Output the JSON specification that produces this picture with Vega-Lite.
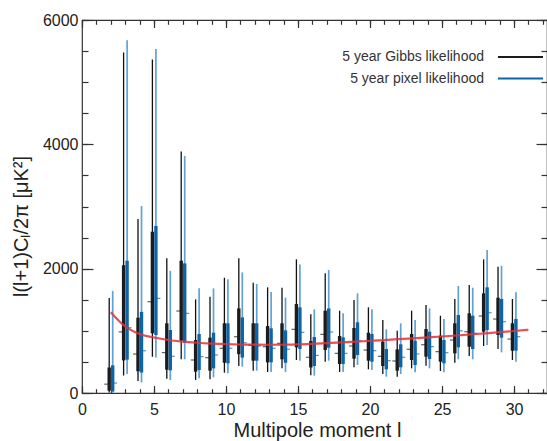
{
  "$schema": "https://vega.github.io/schema/vega-lite/v6.json",
  "width": 465,
  "height": 373,
  "autosize": {"type": "none"},
  "padding": {"left": 82, "top": 20, "right": 0, "bottom": 48},
  "config": {
    "font": "Liberation Sans",
    "view": {"stroke": "#333333", "strokeWidth": 1.2},
    "axis": {"grid": false, "domain": false, "tickColor": "#333333", "tickWidth": 1.2, "labelColor": "#222222", "titleColor": "#222222", "labelFontSize": 16, "titleFontSize": 20, "titleFontWeight": "normal", "labelFlush": false, "format": "d"}
  },
  "datasets": {
    "bars": [
      {"l":2,"s":"G","lo95":10,"lo68":37,"pk":142,"hi68":410,"hi95":1528},
      {"l":3,"s":"G","lo95":280,"lo68":525,"pk":983,"hi68":2055,"hi95":5478},
      {"l":4,"s":"G","lo95":193,"lo68":350,"pk":627,"hi68":1211,"hi95":2798},
      {"l":5,"s":"G","lo95":585,"lo68":960,"pk":1468,"hi68":2594,"hi95":5366},
      {"l":6,"s":"G","lo95":228,"lo68":375,"pk":650,"hi68":1121,"hi95":2166},
      {"l":7,"s":"G","lo95":542,"lo68":841,"pk":1319,"hi68":2128,"hi95":3885},
      {"l":8,"s":"G","lo95":209,"lo68":343,"pk":531,"hi68":852,"hi95":1506},
      {"l":9,"s":"G","lo95":220,"lo68":359,"pk":568,"hi68":890,"hi95":1549},
      {"l":10,"s":"G","lo95":327,"lo68":487,"pk":719,"hi68":1121,"hi95":1854},
      {"l":11,"s":"G","lo95":434,"lo68":625,"pk":905,"hi68":1361,"hi95":2166},
      {"l":12,"s":"G","lo95":359,"lo68":520,"pk":767,"hi68":1121,"hi95":1774},
      {"l":13,"s":"G","lo95":338,"lo68":493,"pk":745,"hi68":1077,"hi95":1700},
      {"l":14,"s":"G","lo95":397,"lo68":542,"pk":799,"hi68":1121,"hi95":1694},
      {"l":15,"s":"G","lo95":531,"lo68":735,"pk":1024,"hi68":1431,"hi95":2150},
      {"l":16,"s":"G","lo95":284,"lo68":410,"pk":574,"hi68":836,"hi95":1268},
      {"l":17,"s":"G","lo95":504,"lo68":691,"pk":943,"hi68":1324,"hi95":1925},
      {"l":18,"s":"G","lo95":338,"lo68":466,"pk":638,"hi68":917,"hi95":1324},
      {"l":19,"s":"G","lo95":413,"lo68":552,"pk":756,"hi68":1045,"hi95":1495},
      {"l":20,"s":"G","lo95":381,"lo68":520,"pk":691,"hi68":970,"hi95":1378},
      {"l":21,"s":"G","lo95":305,"lo68":434,"pk":590,"hi68":825,"hi95":1174},
      {"l":22,"s":"G","lo95":263,"lo68":359,"pk":515,"hi68":702,"hi95":1002},
      {"l":23,"s":"G","lo95":397,"lo68":531,"pk":703,"hi68":949,"hi95":1324},
      {"l":24,"s":"G","lo95":439,"lo68":584,"pk":777,"hi68":1029,"hi95":1415},
      {"l":25,"s":"G","lo95":354,"lo68":504,"pk":665,"hi68":922,"hi95":1243},
      {"l":26,"s":"G","lo95":487,"lo68":638,"pk":852,"hi68":1121,"hi95":1512},
      {"l":27,"s":"G","lo95":595,"lo68":745,"pk":986,"hi68":1281,"hi95":1737},
      {"l":28,"s":"G","lo95":756,"lo68":986,"pk":1238,"hi68":1603,"hi95":2150},
      {"l":29,"s":"G","lo95":708,"lo68":933,"pk":1190,"hi68":1533,"hi95":2031},
      {"l":30,"s":"G","lo95":531,"lo68":681,"pk":868,"hi68":1121,"hi95":1512},
      {"l":2,"s":"P","lo95":5,"lo68":25,"pk":160,"hi68":445,"hi95":1642},
      {"l":3,"s":"P","lo95":305,"lo68":537,"pk":1050,"hi68":2128,"hi95":5676},
      {"l":4,"s":"P","lo95":170,"lo68":330,"pk":680,"hi68":1305,"hi95":3007},
      {"l":5,"s":"P","lo95":573,"lo68":933,"pk":1522,"hi68":2688,"hi95":5532},
      {"l":6,"s":"P","lo95":209,"lo68":365,"pk":590,"hi68":1013,"hi95":1965},
      {"l":7,"s":"P","lo95":542,"lo68":809,"pk":1281,"hi68":2085,"hi95":3813},
      {"l":8,"s":"P","lo95":236,"lo68":370,"pk":584,"hi68":949,"hi95":1683},
      {"l":9,"s":"P","lo95":252,"lo68":397,"pk":611,"hi68":970,"hi95":1683},
      {"l":10,"s":"P","lo95":316,"lo68":477,"pk":719,"hi68":1121,"hi95":1828},
      {"l":11,"s":"P","lo95":423,"lo68":570,"pk":809,"hi68":1216,"hi95":1940},
      {"l":12,"s":"P","lo95":359,"lo68":520,"pk":756,"hi68":1121,"hi95":1753},
      {"l":13,"s":"P","lo95":338,"lo68":493,"pk":719,"hi68":1040,"hi95":1624},
      {"l":14,"s":"P","lo95":338,"lo68":487,"pk":703,"hi68":1008,"hi95":1533},
      {"l":15,"s":"P","lo95":520,"lo68":708,"pk":976,"hi68":1378,"hi95":2069},
      {"l":16,"s":"P","lo95":279,"lo68":434,"pk":605,"hi68":900,"hi95":1346},
      {"l":17,"s":"P","lo95":520,"lo68":729,"pk":981,"hi68":1361,"hi95":1978},
      {"l":18,"s":"P","lo95":338,"lo68":466,"pk":638,"hi68":895,"hi95":1281},
      {"l":19,"s":"P","lo95":450,"lo68":611,"pk":841,"hi68":1137,"hi95":1603},
      {"l":20,"s":"P","lo95":370,"lo68":504,"pk":681,"hi68":949,"hi95":1346},
      {"l":21,"s":"P","lo95":263,"lo68":381,"pk":520,"hi68":708,"hi95":1024},
      {"l":22,"s":"P","lo95":305,"lo68":413,"pk":574,"hi68":783,"hi95":1121},
      {"l":23,"s":"P","lo95":333,"lo68":450,"pk":627,"hi68":841,"hi95":1174},
      {"l":24,"s":"P","lo95":397,"lo68":547,"pk":745,"hi68":986,"hi95":1361},
      {"l":25,"s":"P","lo95":333,"lo68":477,"pk":648,"hi68":852,"hi95":1190},
      {"l":26,"s":"P","lo95":542,"lo68":735,"pk":1000,"hi68":1254,"hi95":1721},
      {"l":27,"s":"P","lo95":542,"lo68":708,"pk":960,"hi68":1243,"hi95":1694},
      {"l":28,"s":"P","lo95":772,"lo68":1013,"pk":1291,"hi68":1700,"hi95":2300},
      {"l":29,"s":"P","lo95":654,"lo68":890,"pk":1147,"hi68":1512,"hi95":2048},
      {"l":30,"s":"P","lo95":504,"lo68":681,"pk":906,"hi68":1190,"hi95":1619}
    ],
    "theory": [
      {"l":2,"v":1300},{"l":3,"v":1070},{"l":4,"v":948},{"l":5,"v":892},{"l":6,"v":852},
      {"l":7,"v":826},{"l":8,"v":808},{"l":9,"v":795},{"l":10,"v":786},{"l":11,"v":780},
      {"l":12,"v":777},{"l":13,"v":776},{"l":14,"v":777},{"l":15,"v":781},{"l":16,"v":790},
      {"l":17,"v":801},{"l":18,"v":813},{"l":19,"v":826},{"l":20,"v":839},{"l":21,"v":852},
      {"l":22,"v":866},{"l":23,"v":880},{"l":24,"v":894},{"l":25,"v":909},{"l":26,"v":925},
      {"l":27,"v":942},{"l":28,"v":960},{"l":29,"v":978},{"l":30,"v":997},{"l":31,"v":1017}
    ]
  },
  "data": {"name": "bars"},
  "resolve": {"axis": {"x": "independent", "y": "independent"}},
  "layer": [
    {
      "transform": [{"filter": "datum.s === 'G'"}],
      "mark": {"type": "rule", "color": "#111111", "strokeWidth": 1.3, "xOffset": -1.6},
      "encoding": {
        "x": {"field": "l", "type": "quantitative", "scale": {"domain": [0, 32.29], "nice": false, "zero": false},
          "axis": {"orient": "bottom", "values": [0,5,10,15,20,25,30], "offset": -7.5, "tickSize": 7.5, "labelPadding": 8, "title": "Multipole moment  l", "titleX": 235, "titleY": 45, "titleBaseline": "middle", "titleAnchor": "middle", "titleAlign": "center"}},
        "y": {"field": "lo95", "type": "quantitative", "scale": {"domain": [0, 6000], "nice": false},
          "axis": {"orient": "left", "values": [0,2000,4000,6000], "offset": -11, "tickSize": 11, "labelPadding": 4, "title": "l(l+1)Cₗ/2π [μK²]", "titleX": -72, "titleY": 206, "titleAngle": -90, "titleBaseline": "middle", "titleAlign": "center"}},
        "y2": {"field": "hi95"}
      }
    },
    {
      "transform": [{"filter": "datum.s === 'G'"}],
      "mark": {"type": "rule", "strokeWidth": 3.4, "xOffset": -1.6},
      "encoding": {
        "x": {"field": "l", "type": "quantitative", "scale": {"domain": [0, 32.29], "nice": false, "zero": false},
          "axis": {"orient": "top", "values": [0,5,10,15,20,25,30], "offset": -7.5, "tickSize": 7.5, "labels": false, "title": null}},
        "y": {"field": "lo68", "type": "quantitative", "scale": {"domain": [0, 6000], "nice": false},
          "axis": {"orient": "right", "values": [0,2000,4000,6000], "offset": -11, "tickSize": 11, "labels": false, "title": null}},
        "y2": {"field": "hi68"},
        "color": {"datum": "5 year Gibbs likelihood", "type": "nominal",
          "scale": {"domain": ["5 year Gibbs likelihood", "5 year pixel likelihood"], "range": ["#1c1c1c", "#0e64a8"]},
          "legend": {"title": null, "orient": "none", "legendX": 431.5, "legendY": 30, "symbolType": "M-4,0H4", "symbolSize": 126.5625, "symbolStrokeWidth": 2, "labelAlign": "right", "labelOffset": -43.5, "labelFontSize": 14, "labelColor": "#333333", "rowPadding": 7.5, "padding": 0, "labelLimit": 300}}
      }
    },
    {
      "transform": [{"filter": "datum.s === 'G'"}],
      "mark": {"type": "tick", "orient": "horizontal", "color": "#1c1c1c", "size": 4, "thickness": 1.2, "xOffset": -4.5},
      "encoding": {
        "x": {"field": "l", "type": "quantitative", "scale": {"domain": [0, 32.29], "nice": false, "zero": false},
          "axis": {"orient": "bottom", "values": [0,1,2,3,4,5,6,7,8,9,10,11,12,13,14,15,16,17,18,19,20,21,22,23,24,25,26,27,28,29,30,31,32], "offset": -4.3, "tickSize": 4.3, "labels": false, "title": null}},
        "y": {"field": "pk", "type": "quantitative", "scale": {"domain": [0, 6000], "nice": false},
          "axis": {"orient": "left", "values": [0,500,1000,1500,2000,2500,3000,3500,4000,4500,5000,5500,6000], "offset": -6, "tickSize": 6, "labels": false, "title": null}}
      }
    },
    {
      "transform": [{"filter": "datum.s === 'P'"}],
      "mark": {"type": "rule", "color": "#5fa2d6", "strokeWidth": 1.7, "xOffset": 1.9},
      "encoding": {
        "x": {"field": "l", "type": "quantitative", "scale": {"domain": [0, 32.29], "nice": false, "zero": false},
          "axis": {"orient": "top", "values": [0,1,2,3,4,5,6,7,8,9,10,11,12,13,14,15,16,17,18,19,20,21,22,23,24,25,26,27,28,29,30,31,32], "offset": -4.3, "tickSize": 4.3, "labels": false, "title": null}},
        "y": {"field": "lo95", "type": "quantitative", "scale": {"domain": [0, 6000], "nice": false},
          "axis": {"orient": "right", "values": [0,500,1000,1500,2000,2500,3000,3500,4000,4500,5000,5500,6000], "offset": -6, "tickSize": 6, "labels": false, "title": null}},
        "y2": {"field": "hi95"}
      }
    },
    {
      "transform": [{"filter": "datum.s === 'P'"}],
      "mark": {"type": "rule", "strokeWidth": 3.4, "xOffset": 1.9},
      "encoding": {
        "x": {"field": "l", "type": "quantitative", "scale": {"domain": [0, 32.29], "nice": false, "zero": false}, "axis": null},
        "y": {"field": "lo68", "type": "quantitative", "scale": {"domain": [0, 6000], "nice": false}, "axis": null},
        "y2": {"field": "hi68"},
        "color": {"datum": "5 year pixel likelihood", "type": "nominal"}
      }
    },
    {
      "transform": [{"filter": "datum.s === 'P'"}],
      "mark": {"type": "tick", "orient": "horizontal", "color": "#0e64a8", "size": 3.5, "thickness": 1.2, "xOffset": 4.6},
      "encoding": {
        "x": {"field": "l", "type": "quantitative", "scale": {"domain": [0, 32.29], "nice": false, "zero": false}, "axis": null},
        "y": {"field": "pk", "type": "quantitative", "scale": {"domain": [0, 6000], "nice": false}, "axis": null}
      }
    },
    {
      "data": {"name": "theory"},
      "mark": {"type": "line", "color": "#e2323c", "strokeWidth": 2.2, "opacity": 0.85, "interpolate": "monotone"},
      "encoding": {
        "x": {"field": "l", "type": "quantitative", "scale": {"domain": [0, 32.29], "nice": false, "zero": false}, "axis": null},
        "y": {"field": "v", "type": "quantitative", "scale": {"domain": [0, 6000], "nice": false}, "axis": null}
      }
    }
  ]
}
